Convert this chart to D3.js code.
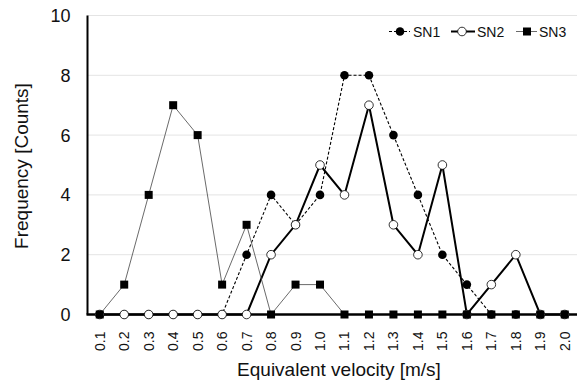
<!DOCTYPE html>
<html>
<head>
<meta charset="utf-8">
<script src="https://cdn.jsdelivr.net/npm/d3@7"></script>
<style>
  body { margin: 0; background: #fff; }
  text { font-family: "Liberation Sans", Arial, sans-serif; fill: #111; }
</style>
</head>
<body>
<div id="chart"></div>
<script>
const categories = ["0.1","0.2","0.3","0.4","0.5","0.6","0.7","0.8","0.9","1.0",
                    "1.1","1.2","1.3","1.4","1.5","1.6","1.7","1.8","1.9","2.0"];
const sn1 = [0,0,0,0,0,0,2,4,3,4,8,8,6,4,2,1,0,0,0,0];
const sn2 = [0,0,0,0,0,0,0,2,3,5,4,7,3,2,5,0,1,2,0,0];
const sn3 = [0,1,4,7,6,1,3,0,1,1,0,0,0,0,0,0,0,0,0,0];
const yTicks = [0, 2, 4, 6, 8, 10];

const width = 581, height = 382;
const margin = {top: 15.5, right: 4, bottom: 67.5, left: 87.5};

const svg = d3.select("#chart").append("svg")
  .attr("width", width)
  .attr("height", height);

const x = d3.scaleBand()
  .domain(categories)
  .range([margin.left, width - margin.right]);

const y = d3.scaleLinear()
  .domain([0, 10])
  .range([height - margin.bottom, margin.top]);

// gridlines
svg.append("g")
  .selectAll("line")
  .data(yTicks.filter(d => d > 0))
  .enter()
  .append("line")
  .attr("x1", margin.left)
  .attr("x2", width - margin.right)
  .attr("y1", d => y(d))
  .attr("y2", d => y(d))
  .attr("stroke", "#e4e4e4")
  .attr("stroke-width", 1);

// y axis labels
svg.append("g")
  .selectAll("text")
  .data(yTicks)
  .enter()
  .append("text")
  .attr("x", margin.left - 17)
  .attr("y", d => y(d) + 6.5)
  .attr("text-anchor", "end")
  .style("font-size", "18px")
  .text(d => d);

// x axis labels (rotated)
svg.append("g")
  .selectAll("text")
  .data(categories)
  .enter()
  .append("text")
  .attr("transform", d => "translate(" + (x(d) + x.bandwidth() / 2 + 5) + "," + (y(0) + 17) + ") rotate(-90)")
  .attr("text-anchor", "end")
  .style("font-size", "14px")
  .text(d => d);

// series
const line = d3.line()
  .x((d, i) => x(categories[i]) + x.bandwidth() / 2)
  .y(d => y(d));

svg.append("path")
  .datum(sn1)
  .attr("d", line)
  .attr("fill", "none")
  .attr("stroke", "#000")
  .attr("stroke-width", 1.1)
  .attr("stroke-dasharray", "3,2");

svg.append("path")
  .datum(sn2)
  .attr("d", line)
  .attr("fill", "none")
  .attr("stroke", "#000")
  .attr("stroke-width", 2);

svg.append("path")
  .datum(sn3)
  .attr("d", line)
  .attr("fill", "none")
  .attr("stroke", "#444")
  .attr("stroke-width", 0.8);

// axes lines
svg.append("line")
  .attr("x1", margin.left)
  .attr("x2", margin.left)
  .attr("y1", margin.top)
  .attr("y2", y(0))
  .attr("stroke", "#000")
  .attr("stroke-width", 2);

svg.append("line")
  .attr("x1", margin.left - 1)
  .attr("x2", width - margin.right)
  .attr("y1", y(0))
  .attr("y2", y(0))
  .attr("stroke", "#000")
  .attr("stroke-width", 2.5);

// markers
svg.append("g")
  .selectAll("circle")
  .data(sn1)
  .enter()
  .append("circle")
  .attr("cx", (d, i) => x(categories[i]) + x.bandwidth() / 2)
  .attr("cy", d => y(d))
  .attr("r", 4.3)
  .attr("fill", "#000");

svg.append("g")
  .selectAll("circle")
  .data(sn2)
  .enter()
  .append("circle")
  .attr("cx", (d, i) => x(categories[i]) + x.bandwidth() / 2)
  .attr("cy", d => y(d))
  .attr("r", 4.3)
  .attr("fill", "#fff")
  .attr("stroke", "#000")
  .attr("stroke-width", 0.8);

svg.append("g")
  .selectAll("rect")
  .data(sn3)
  .enter()
  .append("rect")
  .attr("x", (d, i) => x(categories[i]) + x.bandwidth() / 2 - 4)
  .attr("y", d => y(d) - 4)
  .attr("width", 8)
  .attr("height", 8)
  .attr("fill", "#000");

// axis titles
svg.append("text")
  .attr("x", 339)
  .attr("y", 376)
  .attr("text-anchor", "middle")
  .style("font-size", "19px")
  .text("Equivalent velocity [m/s]");

svg.append("text")
  .attr("transform", "translate(28,166) rotate(-90)")
  .attr("text-anchor", "middle")
  .style("font-size", "19px")
  .text("Frequency [Counts]");

// legend
const legend = svg.append("g");
const ly = 31.5;

legend.append("line")
  .attr("x1", 389).attr("x2", 410).attr("y1", ly).attr("y2", ly)
  .attr("stroke", "#000").attr("stroke-width", 1.1).attr("stroke-dasharray", "3,2");
legend.append("circle").attr("cx", 400).attr("cy", ly).attr("r", 4.3).attr("fill", "#000");
legend.append("text").attr("x", 413).attr("y", ly + 5).style("font-size", "14px").text("SN1");

legend.append("line")
  .attr("x1", 451).attr("x2", 475).attr("y1", ly).attr("y2", ly)
  .attr("stroke", "#000").attr("stroke-width", 2);
legend.append("circle").attr("cx", 462).attr("cy", ly).attr("r", 4.3)
  .attr("fill", "#fff").attr("stroke", "#000").attr("stroke-width", 0.8);
legend.append("text").attr("x", 477).attr("y", ly + 5).style("font-size", "14px").text("SN2");

legend.append("line")
  .attr("x1", 516).attr("x2", 537).attr("y1", ly).attr("y2", ly)
  .attr("stroke", "#444").attr("stroke-width", 0.8);
legend.append("rect").attr("x", 523).attr("y", ly - 4).attr("width", 8).attr("height", 8).attr("fill", "#000");
legend.append("text").attr("x", 539).attr("y", ly + 5).style("font-size", "14px").text("SN3");
</script>
</body>
</html>
